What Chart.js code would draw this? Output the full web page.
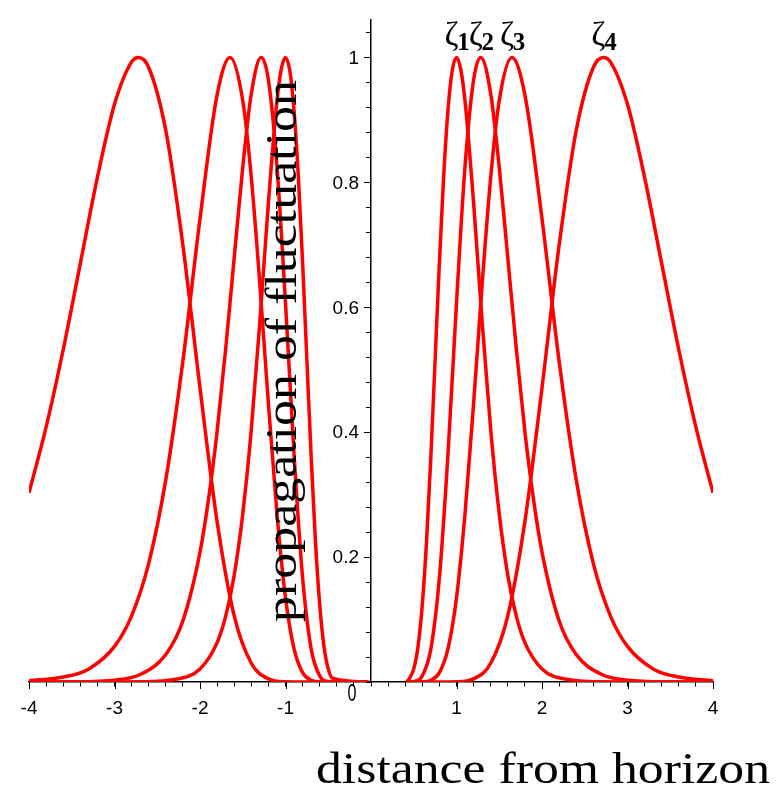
<!DOCTYPE html>
<html>
<head>
<meta charset="utf-8">
<script src="https://cdn.jsdelivr.net/npm/chart.js@4.4.1/dist/chart.umd.min.js"></script>
<style>
  html, body { margin: 0; padding: 0; background: #fff; }
  #wrap { width: 784px; height: 789px; position: relative; }
</style>
</head>
<body>
<div id="wrap"><canvas id="c" width="784" height="789"></canvas></div>
<script>
// ---- data ----
const xTickLabels = [-4, -3, -2, -1, 1, 2, 3, 4];
const yTickLabels = [0.2, 0.4, 0.6, 0.8, 1];

// curve zeta1 (peak at 1.0)
const z1XPos = [0.42, 0.45, 0.5, 0.55, 0.6, 0.65, 0.7, 0.75, 0.8, 0.85, 0.9, 0.95, 1.0, 1.05, 1.1, 1.2, 1.3, 1.4, 1.5, 1.6, 1.7, 1.8, 2.0, 2.3, 2.7, 3.2, 4.0];
const z1XNeg = [-0.03, -0.45, -0.5, -0.55, -0.6, -0.65, -0.7, -0.75, -0.8, -0.85, -0.9, -0.95, -1.0, -1.05, -1.1, -1.2, -1.3, -1.4, -1.5, -1.6, -1.7, -1.8, -2.0, -2.3, -2.7, -3.2, -4.0];
const z1Y    = [0, 0.006, 0.021, 0.057, 0.124, 0.226, 0.361, 0.516, 0.672, 0.81, 0.915, 0.979, 1.0, 0.981, 0.930, 0.767, 0.577, 0.404, 0.269, 0.171, 0.105, 0.063, 0.021, 0.004, 0.0004, 0, 0];

// curve zeta2 (peak at 1.28)
const z2XPos = [0.42, 0.5, 0.6, 0.7, 0.8, 0.9, 1.0, 1.1, 1.2, 1.284, 1.4, 1.5, 1.6, 1.7, 1.8, 1.9, 2.0, 2.2, 2.4, 2.7, 3.0, 3.5, 4.0];
const z2XNeg = [-0.03, -0.5, -0.6, -0.7, -0.8, -0.9, -1.0, -1.1, -1.2, -1.284, -1.4, -1.5, -1.6, -1.7, -1.8, -1.9, -2.0, -2.2, -2.4, -2.7, -3.0, -3.5, -4.0];
const z2Y    = [0, 0.0008, 0.0098, 0.053, 0.167, 0.364, 0.607, 0.826, 0.964, 1.0, 0.942, 0.824, 0.679, 0.533, 0.401, 0.293, 0.208, 0.098, 0.044, 0.012, 0.003, 0.0003, 0];

// curve zeta3 (peak at 1.65)
const z3XPos = [0.42, 0.6, 0.7, 0.8, 0.9, 1.0, 1.1, 1.2, 1.3, 1.4, 1.5, 1.649, 1.8, 2.0, 2.2, 2.4, 2.6, 2.8, 3.0, 3.3, 3.6, 4.0];
const z3XNeg = [-0.03, -0.6, -0.7, -0.8, -0.9, -1.0, -1.1, -1.2, -1.3, -1.4, -1.5, -1.649, -1.8, -2.0, -2.2, -2.4, -2.6, -2.8, -3.0, -3.3, -3.6, -4.0];
const z3Y    = [0, 0.0003, 0.0028, 0.015, 0.053, 0.135, 0.270, 0.446, 0.637, 0.808, 0.931, 1.0, 0.940, 0.742, 0.514, 0.324, 0.190, 0.106, 0.057, 0.021, 0.008, 0.002];

// curve zeta4 (peak at 2.72)
const z4XPos = [0.42, 0.8, 1.0, 1.2, 1.4, 1.6, 1.8, 2.0, 2.2, 2.4, 2.6, 2.718, 2.8, 3.0, 3.2, 3.4, 3.6, 3.8, 4.0];
const z4XNeg = [-0.03, -0.8, -1.0, -1.2, -1.4, -1.6, -1.8, -2.0, -2.2, -2.4, -2.6, -2.718, -2.8, -3.0, -3.2, -3.4, -3.6, -3.8, -4.0];
const z4Y    = [0, 0, 0.0003, 0.005, 0.030, 0.106, 0.257, 0.471, 0.699, 0.883, 0.984, 1.0, 0.993, 0.925, 0.808, 0.670, 0.532, 0.408, 0.303];

// curve labels (symbol + index)
const labelSymbol = 'ζ';
const labelIndex = ['1', '2', '3', '4'];
const labelX = [1.0, 1.284, 1.649, 2.718];
const labelY = [1.02, 1.02, 1.02, 1.02];

const xTitle = 'distance from horizon';
const yTitle = 'propagation of fluctuation';

// ---- build ----
function pts(xs, ys) { return xs.map((x, i) => ({ x: x, y: ys[i] })); }
const curves = [
  [z1XPos, z1Y], [z1XNeg, z1Y],
  [z2XPos, z2Y], [z2XNeg, z2Y],
  [z3XPos, z3Y], [z3XNeg, z3Y],
  [z4XPos, z4Y], [z4XNeg, z4Y]
];
const datasets = curves.map(c => ({
  data: pts(c[0], c[1]),
  showLine: true,
  borderColor: '#ff0000',
  backgroundColor: '#ff0000',
  borderWidth: 3.5,
  pointRadius: 0,
  cubicInterpolationMode: 'monotone',
  fill: false
}));

const SERIF = '"Liberation Serif", "Times New Roman", serif';
const SANS = '"Liberation Sans", Arial, sans-serif';

const near = (v, arr) => arr.some(a => Math.abs(a - v) < 1e-6);

const extras = {
  id: 'extras',
  afterDatasetsDraw(chart) {
    const ctx = chart.ctx;
    const xs = chart.scales.x, ys = chart.scales.y;
    ctx.save();
    ctx.fillStyle = '#000';
    ctx.strokeStyle = '#000';
    ctx.lineWidth = 1;
    const y0 = ys.getPixelForValue(0);
    const x0 = xs.getPixelForValue(0);
    // longer major ticks
    xTickLabels.forEach(v => {
      const px = Math.round(xs.getPixelForValue(v)) + 0.5;
      ctx.beginPath(); ctx.moveTo(px, y0); ctx.lineTo(px, y0 + 7); ctx.stroke();
    });
    yTickLabels.forEach(v => {
      const py = Math.round(ys.getPixelForValue(v)) + 0.5;
      ctx.beginPath(); ctx.moveTo(x0, py); ctx.lineTo(x0 - 7, py); ctx.stroke();
    });
    // y tick labels, right-aligned left of the axis
    ctx.font = '19px ' + SANS;
    ctx.textAlign = 'right';
    ctx.textBaseline = 'middle';
    yTickLabels.forEach(v => {
      const s = Math.abs(v - 1) < 1e-6 ? '1' : v.toFixed(1);
      ctx.fillText(s, x0 - 12, ys.getPixelForValue(v) + 1);
    });
    // origin label
    ctx.textAlign = 'center';
    ctx.textBaseline = 'top';
    ctx.save();
    ctx.translate(x0 - 19, y0 + 1);
    ctx.scale(0.85, 1.25);
    ctx.fillText('0', 0, 0);
    ctx.restore();
    // curve labels
    ctx.textBaseline = 'alphabetic';
    labelIndex.forEach((t, i) => {
      const px = xs.getPixelForValue(labelX[i]);
      const py = ys.getPixelForValue(labelY[i]);
      ctx.font = '34px ' + SERIF;
      ctx.textAlign = 'center';
      ctx.fillText(labelSymbol, px - 5, py);
      ctx.font = 'bold 25px ' + SERIF;
      ctx.fillText(t, px + 7, py + 5);
    });
    // axis titles
    ctx.font = '45px ' + SERIF;
    ctx.textAlign = 'left';
    let w = ctx.measureText(xTitle).width;
    ctx.save();
    ctx.translate(316, 783);
    ctx.scale(454 / w, 1);
    ctx.fillText(xTitle, 0, 0);
    ctx.restore();
    w = ctx.measureText(yTitle).width;
    ctx.save();
    ctx.translate(296, 622);
    ctx.rotate(-Math.PI / 2);
    ctx.scale(542 / w, 1);
    ctx.fillText(yTitle, 0, 0);
    ctx.restore();
    ctx.restore();
  }
};

new Chart(document.getElementById('c'), {
  type: 'scatter',
  data: { datasets: datasets },
  options: {
    responsive: false,
    animation: false,
    events: [],
    layout: { padding: { left: 29, right: 71, top: 20, bottom: 107 } },
    plugins: { legend: { display: false }, tooltip: { enabled: false } },
    scales: {
      x: {
        type: 'linear',
        position: { y: 0 },
        min: -4, max: 4,
        border: { display: true, color: '#000', width: 1.5 },
        grid: { drawOnChartArea: false, drawTicks: true, tickLength: 4, color: '#000', tickColor: '#000' },
        ticks: {
          stepSize: 0.2, includeBounds: false, autoSkip: false, maxRotation: 0,
          padding: 11, color: '#000', font: { family: SANS, size: 19 },
          callback: v => near(v, xTickLabels) ? String(Math.round(v)) : ''
        }
      },
      y: {
        type: 'linear',
        position: { x: 0 },
        min: 0, max: 1.06,
        border: { display: true, color: '#000', width: 1.5 },
        grid: { drawOnChartArea: false, drawTicks: true, tickLength: 4, color: '#000', tickColor: '#000' },
        ticks: {
          stepSize: 0.04, includeBounds: false, autoSkip: false,
          color: '#000', font: { family: SANS, size: 19 },
          callback: () => ''
        }
      }
    }
  },
  plugins: [extras]
});
</script>
</body>
</html>
